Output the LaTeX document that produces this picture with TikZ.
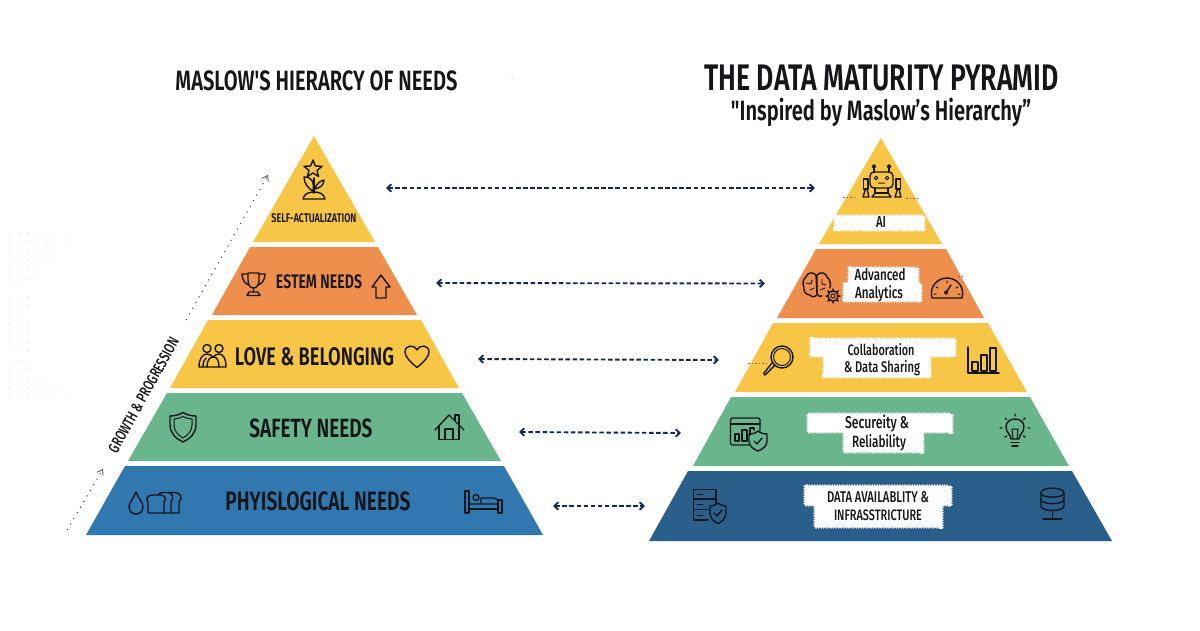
\documentclass[tikz,border=0pt]{standalone}
\usepackage{fontspec}
\usepackage{graphicx}
\usetikzlibrary{arrows.meta,decorations.pathmorphing,decorations.pathreplacing}
\newfontfamily\headf[FakeStretch=0.72,BoldFont={Fira Sans SemiBold}]{Fira Sans}
\newfontfamily\bodyf[FakeStretch=0.72]{Fira Sans Medium}
\definecolor{ink}{HTML}{16161A}
\definecolor{ylw}{HTML}{F8C646}
\definecolor{org}{HTML}{EF8F4E}
\definecolor{grn}{HTML}{69B58C}
\definecolor{bluel}{HTML}{3278B0}
\definecolor{bluer}{HTML}{2A5F8C}
\definecolor{navy}{HTML}{12275E}
\newcommand\fitw[2]{\resizebox{#1pt}{!}{#2}}
% a white scalloped patch: the corners are listed so that the bumps face outward
\newcommand\blob[4]{%
  \fill[white] (#1,#2) rectangle (#3,#4);
  \path[cloudy] (#3,#2) rectangle (#1,#4);
  \path[cloudyb] (#1,#2) rectangle (#3,#4);
}
\tikzset{
  lbl/.style={inner sep=0pt,text=ink,font=\headf\bfseries,align=center},
  cloudtxt/.style={inner sep=0pt,text=ink,font=\bodyf,align=center},
  cloudy/.style={fill=white,decorate,decoration={bumps,segment length=5pt,amplitude=1.8pt}},
  cloudyb/.style={fill=white,decorate,decoration={bumps,segment length=5pt,amplitude=1.8pt}},
  ico/.style={draw=ink,line width=1.4pt,line join=round,line cap=round},
  link/.style={draw=navy,line width=1.9pt,dash pattern=on 4.5pt off 2.6pt,{Straight Barb[length=4pt,width=7.5pt,line width=1.8pt]}-{Straight Barb[length=4pt,width=7.5pt,line width=1.8pt]}},
  growth/.style={draw=black!70,line width=1.1pt,dash pattern=on 1.1pt off 5.4pt,-{Straight Barb[length=5pt,width=7pt,line width=0.8pt,black!70]}},
  stray/.style={draw=black!60,line width=0.7pt,dash pattern=on 1.5pt off 2pt}
}
\begin{document}
\begin{tikzpicture}[x=1pt,y=-1pt]
\useasboundingbox (0,0) rectangle (1200,630);
\fill[white] (0,0) rectangle (1200,630);
% faint dot field
\foreach \r/\n in {0/7,1/7,2/6,3/6,4/4,5/4,6/2,7/3,8/3,9/2,10/3,11/3,12/3,13/3,14/3,15/3,16/6,17/6,18/7}{
  \foreach \c in {1,...,\n}{\fill[black!\ifnum\c<4 7\else 4\fi] ({9.3*\c},{233+9.1*\r}) circle (1pt);}
}
\fill[black!45] (512,78) circle (0.5pt);
% titles
\node[lbl] (t1) at (316.5,81) {\fitw{282}{MASLOW'S HIERARCY OF NEEDS}};
\node[lbl] (t2) at (881.5,78) {\fitw{354}{THE DATA MATURITY PYRAMID}};
\node[lbl] (t3) at (881,112.5) {\fitw{300}{"Inspired by Maslow’s Hierarchy”}};
% left pyramid
\fill[ylw] (314,136) -- (375,242) -- (253,242) -- cycle;
\fill[org] (250,247) -- (378,247) -- (417,315) -- (212,315) -- cycle;
\fill[ylw] (208,320) -- (421,320) -- (459,388) -- (170,388) -- cycle;
\fill[grn] (167,393) -- (462,393) -- (501,461) -- (128,461) -- cycle;
\fill[bluel] (125,466) -- (504,466) -- (543,535) -- (86,535) -- cycle;
% right pyramid
\fill[ylw] (881,138) -- (942,244) -- (819,244) -- cycle;
\fill[org] (816,249) -- (946,249) -- (984,318) -- (777,318) -- cycle;
\fill[ylw] (773,323) -- (988,323) -- (1027,392) -- (735,392) -- cycle;
\fill[grn] (731,397) -- (1030,397) -- (1069,466) -- (693,466) -- cycle;
\fill[bluer] (688,471) -- (1072,471) -- (1112,541) -- (649,541) -- cycle;
% left labels
\node[lbl] (m1) at (314,218) {\fitw{85}{SELF-ACTUALIZATION}};
\node[lbl] (m2) at (319,282) {\fitw{86}{ESTEM NEEDS}};
\node[lbl] (m3) at (314.5,356.5) {\fitw{159}{LOVE \& BELONGING}};
\node[lbl] (m4) at (311,428) {\fitw{123}{SAFETY NEEDS}};
\node[lbl] (m5) at (318,501) {\fitw{185}{PHYISLOGICAL NEEDS}};
% clouds
\blob{835}{216}{924}{230}
\blob{849}{268}{918}{284}
\blob{844}{284}{921}{301}
\blob{811}{339}{955}{356}
\blob{824}{355}{930}{377}
\blob{808}{414}{952}{432}
\blob{844}{431}{923}{452}
\blob{805}{486}{951}{505}
\blob{815}{504}{942}{527}
% right labels
\node[cloudtxt] (d1) at (881,222.5) {\fitw{10}{AI}};
\node[cloudtxt] (d2a) at (880,275) {\fitw{51}{Advanced}};
\node[cloudtxt] (d2b) at (879,293.5) {\fitw{48}{Analytics}};
\node[cloudtxt] (d3a) at (881,350) {\fitw{67}{Collaboration}};
\node[cloudtxt] (d3b) at (882,368) {\fitw{76}{\& Data Sharing}};
\node[cloudtxt] (d4a) at (877,424) {\fitw{64}{Secureity \&}};
\node[cloudtxt] (d4b) at (879,443) {\fitw{54}{Reliability}};
\node[cloudtxt] (d5a) at (878,497) {\fitw{102}{DATA AVAILABLITY \&}};
\node[cloudtxt] (d5b) at (878,515) {\fitw{88}{INFRASSTRICTURE}};
% connectors
\coordinate (la) at (386,188); \coordinate (ra) at (815,188);
\coordinate (lb) at (436,283); \coordinate (rb) at (765,283.5);
\coordinate (lc) at (478,359); \coordinate (rc) at (719,360);
\coordinate (ld) at (519,432); \coordinate (rd) at (681,433);
\coordinate (le) at (553,506); \coordinate (re) at (645,506);
\draw[link] (la) -- (ra);
\draw[link] (lb) -- (rb);
\draw[link] (lc) -- (rc);
\draw[link] (ld) -- (rd);
\draw[link] (le) -- (re);
% growth
\coordinate (g1) at (67,530); \coordinate (g2) at (103,469);
\coordinate (g3) at (186,320); \coordinate (g4) at (268,175);
\draw[growth] (g1) -- (g2);
\draw[growth] (g3) -- (g4);
\node[inner sep=0pt,text=ink,font=\bodyf,rotate=61] (gt) at (143.5,395) {\fitw{129}{GROWTH \& PROGRESSION}};
% stray dots
\coordinate (s1) at (843,197); \coordinate (s2) at (857,197);
\coordinate (s3) at (906,198); \coordinate (s4) at (918,198);
\coordinate (s5) at (958,276); \coordinate (s6) at (965,276);
\coordinate (s7) at (748,363); \coordinate (s8) at (768,363);
\draw[stray] (s1) -- (s2); \draw[stray] (s3) -- (s4); \draw[stray] (s5) -- (s6); \draw[stray] (s7) -- (s8);
% ---- left icons ----
% star + plant
\draw[ico] (313,160) -- (315.4,166) -- (322,166.3) -- (317,170.5) -- (318.6,176.5) -- (313,173) -- (307.4,176.5) -- (309,170.5) -- (304,166.3) -- (310.6,166) -- cycle;
\draw[ico] (314,178) -- (314,193);
\draw[ico] (313,191) .. controls (309,189) and (304,184) .. (304,177) .. controls (310,176) and (315,181) .. (313,191);
\draw[ico] (315,189) .. controls (316,184) and (320,181) .. (324,180) .. controls (324,185) and (320,188) .. (315,189);
\draw[ico] (303,199) .. controls (304,193) and (310,192) .. (314,192) .. controls (318,192) and (324,193) .. (325,199) -- cycle;
% trophy
\draw[ico] (248,273) -- (259,273) -- (259,280) .. controls (259,286) and (256,288) .. (253.5,288) .. controls (251,288) and (248,286) .. (248,280) -- cycle;
\draw[ico] (248,274) -- (242,274) .. controls (242,281) and (246,284) .. (249,285);
\draw[ico] (259,274) -- (265,274) .. controls (265,281) and (261,284) .. (258,285);
\draw[ico] (253.5,288) -- (253.5,292) (249,292) -- (258,292) -- (260,295.5) -- (247,295.5) -- cycle;
% up arrow
\draw[ico] (381,275) -- (390,287) -- (386,287) -- (386,298) -- (376,298) -- (376,287) -- (372,287) -- cycle;
% people
\draw[ico] (207,348.5) circle (4pt) (219,348.5) circle (4pt);
\draw[ico] (199,367) .. controls (199,358) and (203,354) .. (207,354) .. controls (209,354) and (211,355) .. (213,357) .. controls (215,355) and (217,354) .. (219,354) .. controls (223,354) and (226,358) .. (226,367) -- cycle;
\draw[ico] (207,367) .. controls (207,360) and (210,357) .. (213,357) .. controls (217,357) and (219,360) .. (219,367);
\draw[ico] (203,367) .. controls (203,362) and (204,360) .. (206,358);
% heart
\draw[ico] (417,367.5) .. controls (409,361) and (405,356) .. (405,352) .. controls (405,345) and (414,344) .. (417,350) .. controls (420,344) and (429,345) .. (429,352) .. controls (429,356) and (425,361) .. (417,367.5) -- cycle;
% shield
\draw[ico] (183,412.5) .. controls (187,415) and (192,416) .. (196,416) -- (196,425) .. controls (196,433) and (190,439) .. (183,442) .. controls (176,439) and (170,433) .. (170,425) -- (170,416) .. controls (174,416) and (179,415) .. (183,412.5) -- cycle;
\draw[ico,line width=1pt] (183,416.5) .. controls (186,418) and (189,419) .. (192,419) -- (192,425) .. controls (192,431) and (188,435) .. (183,438) .. controls (178,435) and (174,431) .. (174,425) -- (174,419) .. controls (177,419) and (180,418) .. (183,416.5) -- cycle;
% house
\draw[ico] (435,430) -- (449,415) -- (464,430);
\draw[ico] (439,426) -- (439,439.5) -- (459,439.5) -- (459,426);
\draw[ico] (445,439.5) -- (445,429) -- (453,429) -- (453,439.5);
\draw[ico] (455,420) -- (455,415) -- (459,415) -- (459,424);
% drop
\draw[ico] (136,492) .. controls (134,498) and (129,502) .. (129,507) .. controls (129,511) and (132,514) .. (136,514) .. controls (140,514) and (143,511) .. (143,507) .. controls (143,502) and (138,498) .. (136,492) -- cycle;
% bread
\draw[ico] (148,513) -- (148,502) .. controls (145,498) and (148,495) .. (153,495) -- (160,495) .. controls (165,495) and (167,499) .. (164,502) -- (164,513) -- cycle;
\draw[ico] (158,495) .. controls (160,492) and (163,492.5) .. (165,492.5) -- (168,492.5) .. controls (173,493) and (174,498) .. (171,502) -- (171,513) -- (164,513);
\draw[ico] (169,492.5) -- (175,492.5) .. controls (181,493) and (183,498) .. (179,502) -- (179,513) -- (171,513);
% bed
\draw[ico] (465,491) -- (465,513) -- (469,513) -- (469,491) -- cycle;
\draw[ico] (469,509) -- (498,509);
\draw[ico] (498,500) -- (502,500) -- (502,513) -- (498,513) -- cycle;
\draw[ico] (469,504) -- (498,504) (481,504) -- (481,498) -- (494,498) .. controls (497,498) and (498,500) .. (498,504);
\draw[ico] (476,497.5) circle (3pt);
% ---- right icons ----
% robot
\draw[ico,rounded corners=4pt] (870,172) rectangle (893,188);
\draw[ico] (874,172) -- (874,168) (889,172) -- (889,168);
\draw[ico] (874,166.5) circle (1.6pt) (889,166.5) circle (1.6pt);
\draw[ico,line width=1pt] (876,178) circle (1.8pt) (887,178) circle (1.8pt) (878.5,183) -- (884.5,183);
\draw[ico] (875,188) -- (875,193) -- (888,193) -- (888,188);
\draw[ico] (872,197) -- (891,197) -- (888,193) -- (875,193) -- cycle;
\draw[ico] (863.5,179) rectangle (868,189);
\draw[ico] (896,179) rectangle (900.5,189);
\draw[ico] (865.5,189) -- (863,197) -- (869,197) -- (867,189);
\draw[ico] (897.5,189) -- (895,197) -- (901,197) -- (899,189);
% brain
\draw[ico] (816,275) .. controls (812,271) and (807,273) .. (806,277) .. controls (803,279) and (802,284) .. (804,287) .. controls (803,291) and (806,295) .. (810,295) .. controls (812,298) and (816,297) .. (817,294) -- cycle;
\draw[ico] (817,275) .. controls (821,271) and (826,273) .. (827,277) .. controls (830,279) and (831,284) .. (830,288);
\draw[ico] (817,275) -- (817,294) .. controls (818,296) and (820,297) .. (822,296);
\draw[ico,line width=0.9pt] (806,283) -- (811,284) -- (812,280) (810,290) -- (814,288) (822,279) -- (822,284) -- (826,285) (820,290) -- (825,288);
% gear
\draw[ico] (833,296) circle (5.2pt);
\draw[ico,line width=1pt] (833,296) circle (2.2pt);
\draw[ico,line width=1.5pt] (833,289) -- (833,290.5) (833,301.5) -- (833,303) (826,296) -- (827.5,296) (838.5,296) -- (840,296) (828,291) -- (829,292) (837,300) -- (838,301) (838,291) -- (837,292) (829,300) -- (828,301);
% gauge
\draw[ico] (932,298) .. controls (929,287) and (937,278) .. (947,278) .. controls (957,278) and (965,287) .. (962,298) -- cycle;
\draw[ico,line width=1pt] (947,281) -- (947,283) (936,287) -- (938,288) (958,287) -- (956,288) (934,294) -- (936,294) (960,294) -- (958,294);
\draw[ico] (946,292.5) circle (1.5pt) (947,291) -- (951,285);
% magnifier
\draw[ico] (782,357) circle (11pt);
\draw[ico,line width=1pt] (782,357) circle (8.5pt);
\draw[ico] (775,365) -- (766,374) -- (764.5,375) -- (764,373) -- (772,363);
% chart
\draw[ico] (968,347) -- (968,373) -- (999,373);
\draw[ico] (972,362) rectangle (978,371) (981,355) rectangle (987,371) (990,348) rectangle (996,371);
% dashboard + shield
\draw[ico,rounded corners=1.5pt] (760,431) -- (760,418) -- (730.5,418) -- (730.5,445) -- (749,445);
\draw[ico] (730.5,424) -- (760,424);
\draw[ico] (735,441) rectangle (739,434) (742,441) rectangle (747,430);
\draw[ico] (750,435) -- (750,428) -- (754,428) -- (754,430);
\draw[ico] (758,431) .. controls (760,433) and (764,434) .. (767,434) -- (767,441) .. controls (767,446) and (763,449) .. (758,451) .. controls (753,449) and (749,446) .. (749,441) -- (749,434) .. controls (752,434) and (756,433) .. (758,431) -- cycle;
\draw[ico] (754,441) -- (757,444) -- (762,438);
% bulb
\draw[ico] (1011,439) .. controls (1011,434) and (1006,433) .. (1006,427) .. controls (1006,422) and (1010,419) .. (1015,419) .. controls (1020,419) and (1024,422) .. (1024,427) .. controls (1024,433) and (1019,434) .. (1019,439) -- cycle;
\draw[ico] (1011,442.5) -- (1019,442.5) (1012,446) -- (1018,446);
\draw[ico,line width=1pt] (1013,439) -- (1012,429) -- (1018,429) -- (1017,439);
\draw[ico] (1015,414) -- (1015,416) (1000,428) -- (1002,428) (1028,428) -- (1030,428) (1005,418) -- (1006.5,419.5) (1025,418) -- (1023.5,419.5) (1005,437) -- (1006.5,436) (1025,437) -- (1023.5,436);
% server + shield
\draw[ico] (708,520) -- (693.5,520) -- (693.5,489.5) -- (716,489.5) -- (716,504);
\draw[ico] (693.5,499) -- (716,499) (693.5,509.5) -- (708,509.5);
\draw[ico,line width=1pt] (697,494) -- (703,494) (697,504) -- (703,504) (697,515) -- (703,515);
\draw[ico] (718,503) .. controls (720,505) and (724,506) .. (726,506) -- (726,513) .. controls (726,518) and (722,522) .. (718,523.5) .. controls (714,522) and (710,518) .. (710,513) -- (710,506) .. controls (712,506) and (716,505) .. (718,503) -- cycle;
\draw[ico] (714,513) -- (717,516) -- (722,510);
% database
\draw[ico] (1041,493) .. controls (1041,486.5) and (1064,486.5) .. (1064,493) -- (1064,506) .. controls (1064,512) and (1041,512) .. (1041,506) -- cycle;
\draw[ico] (1041,493) .. controls (1041,498.5) and (1064,498.5) .. (1064,493);
\draw[ico] (1041,499.5) .. controls (1041,505) and (1064,505) .. (1064,499.5);
\draw[ico] (1052.5,510) -- (1052.5,519) (1043,519) -- (1062,519);
\end{tikzpicture}
\end{document}
